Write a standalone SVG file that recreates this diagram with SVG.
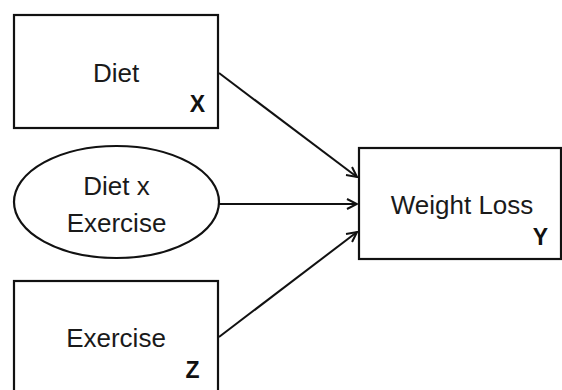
<svg xmlns="http://www.w3.org/2000/svg" width="562" height="390" viewBox="0 0 562 390">
<style>
.box{fill:#fff;stroke:#111;stroke-width:2.2}
.lbl{font-family:"Liberation Sans",Arial,sans-serif;font-size:26px;fill:#1a1a1a;text-anchor:middle}
.var{font-family:"Liberation Sans",Arial,sans-serif;font-size:23px;font-weight:bold;fill:#111;text-anchor:middle}
.conn{stroke:#111;stroke-width:2;fill:none;marker-end:url(#arr)}
</style>
<defs>
<marker id="arr" viewBox="0 0 12 12" refX="11" refY="6" markerWidth="12" markerHeight="12" markerUnits="userSpaceOnUse" orient="auto">
<path d="M1,1 L11,6 L1,11" fill="none" stroke="#111" stroke-width="2"/>
</marker>
</defs>
<rect width="562" height="390" fill="#fff"/>
<g id="connectors">
<line class="conn" x1="219" y1="73" x2="357" y2="177"/>
<line class="conn" x1="219" y1="204" x2="357" y2="204"/>
<line class="conn" x1="219" y1="337" x2="357" y2="232"/>
</g>
<g id="diet">
<rect class="box" x="14" y="15" width="204" height="113"/>
<text class="lbl" x="116" y="82">Diet</text>
<text class="var" x="197.5" y="112">X</text>
</g>
<g id="interaction">
<ellipse class="box" cx="116.5" cy="202" rx="102.5" ry="56"/>
<text class="lbl" x="116.5" y="195">Diet x</text>
<text class="lbl" x="116.5" y="232">Exercise</text>
</g>
<g id="exercise">
<rect class="box" x="14" y="281" width="204" height="115"/>
<text class="lbl" x="116" y="347">Exercise</text>
<text class="var" x="192.5" y="378">Z</text>
</g>
<g id="weightloss">
<rect class="box" x="359" y="148" width="202" height="111"/>
<text class="lbl" x="462" y="214">Weight Loss</text>
<text class="var" x="540.5" y="245">Y</text>
</g>
</svg>
